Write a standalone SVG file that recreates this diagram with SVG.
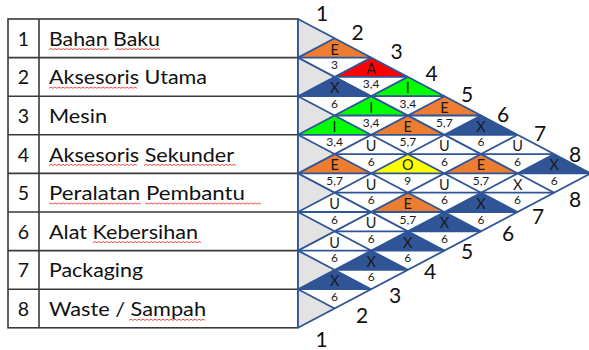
<svg xmlns="http://www.w3.org/2000/svg" width="589" height="350" viewBox="0 0 589 350">
  <style>
    .tbl { fill: none; stroke: #3a3a3a; stroke-width: 1.6; }
    .lbl { font-family: Lato, "Liberation Sans", sans-serif; font-size: 19.5px; fill: #111; }
    .num { font-family: Lato, "Liberation Sans", sans-serif; font-size: 19.5px; fill: #111; text-anchor: middle; }
    .idx { font-family: Lato, "Liberation Sans", sans-serif; font-size: 21px; fill: #111; text-anchor: middle; }
    .sq  { fill: none; stroke: #e8403a; stroke-width: 0.9; }
    .gray { fill: #e3e3e3; }
    .E { fill: #ed7d31; }
    .A { fill: #ff0000; }
    .I { fill: #00ff00; }
    .O { fill: #ffff00; }
    .X { fill: #2f5597; }
    .grid { fill: none; stroke: #2f5597; stroke-width: 1.8; stroke-linejoin: round; }
    .let { font-family: Lato, "Liberation Sans", sans-serif; font-size: 14.5px; fill: #1a1a1a; text-anchor: middle; }
    .why { font-family: Lato, "Liberation Sans", sans-serif; font-size: 12px; fill: #1a1a1a; text-anchor: middle; }
  </style>

  <!-- department table -->
  <g id="table">
    <rect class="tbl" x="8" y="19" width="290" height="308.8"/>
    <path class="tbl" d="M39 19V327.8M8 57.6H298M8 96.2H298M8 134.8H298M8 173.4H298M8 212H298M8 250.6H298M8 289.2H298"/>
  </g>
  <g id="dept-1"><text class="num" x="23.5" y="45.7">1</text><text class="lbl" x="49" y="45.7" textLength="111" lengthAdjust="spacingAndGlyphs">Bahan Baku</text>
    <path class="sq" d="M49 49.7l2 -1.2l2 1.2l2 -1.2l2 1.2l2 -1.2l2 1.2l2 -1.2l2 1.2l2 -1.2l2 1.2l2 -1.2l2 1.2l2 -1.2l2 1.2l2 -1.2l2 1.2l2 -1.2l2 1.2l2 -1.2l2 1.2l2 -1.2l2 1.2l2 -1.2l2 1.2l2 -1.2l2 1.2l2 -1.2l2 1.2l2 -1.2l2 1.2M116 49.7l2 -1.2l2 1.2l2 -1.2l2 1.2l2 -1.2l2 1.2l2 -1.2l2 1.2l2 -1.2l2 1.2l2 -1.2l2 1.2l2 -1.2l2 1.2l2 -1.2l2 1.2l2 -1.2l2 1.2l2 -1.2l2 1.2l2 -1.2l2 1.2"/></g>
  <g id="dept-2"><text class="num" x="23.5" y="84.3">2</text><text class="lbl" x="49" y="84.3" textLength="158" lengthAdjust="spacingAndGlyphs">Aksesoris Utama</text>
    <path class="sq" d="M49 88.3l2 -1.2l2 1.2l2 -1.2l2 1.2l2 -1.2l2 1.2l2 -1.2l2 1.2l2 -1.2l2 1.2l2 -1.2l2 1.2l2 -1.2l2 1.2l2 -1.2l2 1.2l2 -1.2l2 1.2l2 -1.2l2 1.2l2 -1.2l2 1.2l2 -1.2l2 1.2l2 -1.2l2 1.2l2 -1.2l2 1.2l2 -1.2l2 1.2l2 -1.2l2 1.2l2 -1.2l2 1.2l2 -1.2l2 1.2l2 -1.2l2 1.2l2 -1.2l2 1.2l2 -1.2l2 1.2l2 -1.2l2 1.2"/></g>
  <g id="dept-3"><text class="num" x="23.5" y="122.9">3</text><text class="lbl" x="49" y="122.9" textLength="58" lengthAdjust="spacingAndGlyphs">Mesin</text></g>
  <g id="dept-4"><text class="num" x="23.5" y="161.5">4</text><text class="lbl" x="49" y="161.5" textLength="185" lengthAdjust="spacingAndGlyphs">Aksesoris Sekunder</text>
    <path class="sq" d="M49 165.5l2 -1.2l2 1.2l2 -1.2l2 1.2l2 -1.2l2 1.2l2 -1.2l2 1.2l2 -1.2l2 1.2l2 -1.2l2 1.2l2 -1.2l2 1.2l2 -1.2l2 1.2l2 -1.2l2 1.2l2 -1.2l2 1.2l2 -1.2l2 1.2l2 -1.2l2 1.2l2 -1.2l2 1.2l2 -1.2l2 1.2l2 -1.2l2 1.2l2 -1.2l2 1.2l2 -1.2l2 1.2l2 -1.2l2 1.2l2 -1.2l2 1.2l2 -1.2l2 1.2l2 -1.2l2 1.2l2 -1.2l2 1.2M144 165.5l2 -1.2l2 1.2l2 -1.2l2 1.2l2 -1.2l2 1.2l2 -1.2l2 1.2l2 -1.2l2 1.2l2 -1.2l2 1.2l2 -1.2l2 1.2l2 -1.2l2 1.2l2 -1.2l2 1.2l2 -1.2l2 1.2l2 -1.2l2 1.2l2 -1.2l2 1.2l2 -1.2l2 1.2l2 -1.2l2 1.2l2 -1.2l2 1.2l2 -1.2l2 1.2l2 -1.2l2 1.2l2 -1.2l2 1.2l2 -1.2l2 1.2l2 -1.2l2 1.2l2 -1.2l2 1.2l2 -1.2l2 1.2l2 -1.2l2 1.2"/></g>
  <g id="dept-5"><text class="num" x="23.5" y="200.1">5</text><text class="lbl" x="49" y="200.1" textLength="196" lengthAdjust="spacingAndGlyphs">Peralatan Pembantu</text>
    <path class="sq" d="M49 204.1l2 -1.2l2 1.2l2 -1.2l2 1.2l2 -1.2l2 1.2l2 -1.2l2 1.2l2 -1.2l2 1.2l2 -1.2l2 1.2l2 -1.2l2 1.2l2 -1.2l2 1.2l2 -1.2l2 1.2l2 -1.2l2 1.2l2 -1.2l2 1.2l2 -1.2l2 1.2l2 -1.2l2 1.2l2 -1.2l2 1.2l2 -1.2l2 1.2l2 -1.2l2 1.2l2 -1.2l2 1.2l2 -1.2l2 1.2l2 -1.2l2 1.2l2 -1.2l2 1.2l2 -1.2l2 1.2l2 -1.2l2 1.2l2 -1.2l2 1.2M145 204.1l2 -1.2l2 1.2l2 -1.2l2 1.2l2 -1.2l2 1.2l2 -1.2l2 1.2l2 -1.2l2 1.2l2 -1.2l2 1.2l2 -1.2l2 1.2l2 -1.2l2 1.2l2 -1.2l2 1.2l2 -1.2l2 1.2l2 -1.2l2 1.2l2 -1.2l2 1.2l2 -1.2l2 1.2l2 -1.2l2 1.2l2 -1.2l2 1.2l2 -1.2l2 1.2l2 -1.2l2 1.2l2 -1.2l2 1.2l2 -1.2l2 1.2l2 -1.2l2 1.2l2 -1.2l2 1.2l2 -1.2l2 1.2l2 -1.2l2 1.2l2 -1.2l2 1.2l2 -1.2l2 1.2l2 -1.2l2 1.2l2 -1.2l2 1.2l2 -1.2l2 1.2l2 -1.2l2 1.2"/></g>
  <g id="dept-6"><text class="num" x="23.5" y="238.7">6</text><text class="lbl" x="49" y="238.7" textLength="149" lengthAdjust="spacingAndGlyphs">Alat Kebersihan</text>
    <path class="sq" d="M93 242.7l2 -1.2l2 1.2l2 -1.2l2 1.2l2 -1.2l2 1.2l2 -1.2l2 1.2l2 -1.2l2 1.2l2 -1.2l2 1.2l2 -1.2l2 1.2l2 -1.2l2 1.2l2 -1.2l2 1.2l2 -1.2l2 1.2l2 -1.2l2 1.2l2 -1.2l2 1.2l2 -1.2l2 1.2l2 -1.2l2 1.2l2 -1.2l2 1.2l2 -1.2l2 1.2l2 -1.2l2 1.2l2 -1.2l2 1.2l2 -1.2l2 1.2l2 -1.2l2 1.2l2 -1.2l2 1.2l2 -1.2l2 1.2l2 -1.2l2 1.2l2 -1.2l2 1.2l2 -1.2l2 1.2l2 -1.2l2 1.2l2 -1.2l2 1.2"/></g>
  <g id="dept-7"><text class="num" x="23.5" y="277.3">7</text><text class="lbl" x="49" y="277.3" textLength="94" lengthAdjust="spacingAndGlyphs">Packaging</text></g>
  <g id="dept-8"><text class="num" x="23.5" y="315.9">8</text><text class="lbl" x="49" y="315.9" textLength="157" lengthAdjust="spacingAndGlyphs">Waste / Sampah</text>
    <path class="sq" d="M129 320.4l2 -1.2l2 1.2l2 -1.2l2 1.2l2 -1.2l2 1.2l2 -1.2l2 1.2l2 -1.2l2 1.2l2 -1.2l2 1.2l2 -1.2l2 1.2l2 -1.2l2 1.2l2 -1.2l2 1.2l2 -1.2l2 1.2l2 -1.2l2 1.2l2 -1.2l2 1.2l2 -1.2l2 1.2l2 -1.2l2 1.2l2 -1.2l2 1.2l2 -1.2l2 1.2l2 -1.2l2 1.2l2 -1.2l2 1.2l2 -1.2l2 1.2"/></g>

  <!-- shaded end caps of each row -->
  <g id="caps" class="gray">
    <polygon points="298,19 298,57.6 334.6,38.3"/>
    <polygon points="298,57.6 298,96.2 334.6,76.9"/>
    <polygon points="298,96.2 298,134.8 334.6,115.5"/>
    <polygon points="298,134.8 298,173.4 334.6,154.1"/>
    <polygon points="298,173.4 298,212 334.6,192.7"/>
    <polygon points="298,212 298,250.6 334.6,231.3"/>
    <polygon points="298,250.6 298,289.2 334.6,269.9"/>
    <polygon points="298,289.2 298,327.8 334.6,308.5"/>
  </g>

  <!-- relationship cells: closeness code on top, reason code below -->
  <g id="rel-1-2"><polygon class="E" points="334.6,38.3 298,57.6 371.2,57.6"/><text class="let" x="334.6" y="54.6">E</text><text class="why" x="334.6" y="69.1">3</text></g>
  <g id="rel-1-3"><polygon class="A" points="371.2,57.6 334.6,76.9 407.8,76.9"/><text class="let" x="371.2" y="73.9">A</text><text class="why" x="371.2" y="88.4">3,4</text></g>
  <g id="rel-1-4"><polygon class="I" points="407.8,76.9 371.2,96.2 444.4,96.2"/><text class="let" x="407.8" y="93.2">I</text><text class="why" x="407.8" y="107.7">3,4</text></g>
  <g id="rel-1-5"><polygon class="E" points="444.4,96.2 407.8,115.5 481,115.5"/><text class="let" x="444.4" y="112.5">E</text><text class="why" x="444.4" y="127">5,7</text></g>
  <g id="rel-1-6"><polygon class="X" points="481,115.5 444.4,134.8 517.6,134.8"/><text class="let" x="481" y="131.8">X</text><text class="why" x="481" y="146.3">6</text></g>
  <g id="rel-1-7"><text class="let" x="517.6" y="151.1">U</text><text class="why" x="517.6" y="165.6">6</text></g>
  <g id="rel-1-8"><polygon class="X" points="554.2,154.1 517.6,173.4 590.8,173.4"/><text class="let" x="554.2" y="170.4">X</text><text class="why" x="554.2" y="184.9">6</text></g>
  <g id="rel-2-3"><polygon class="X" points="334.6,76.9 298,96.2 371.2,96.2"/><text class="let" x="334.6" y="93.2">X</text><text class="why" x="334.6" y="107.7">6</text></g>
  <g id="rel-2-4"><polygon class="I" points="371.2,96.2 334.6,115.5 407.8,115.5"/><text class="let" x="371.2" y="112.5">I</text><text class="why" x="371.2" y="127">3,4</text></g>
  <g id="rel-2-5"><polygon class="E" points="407.8,115.5 371.2,134.8 444.4,134.8"/><text class="let" x="407.8" y="131.8">E</text><text class="why" x="407.8" y="146.3">5,7</text></g>
  <g id="rel-2-6"><text class="let" x="444.4" y="151.1">U</text><text class="why" x="444.4" y="165.6">6</text></g>
  <g id="rel-2-7"><polygon class="E" points="481,154.1 444.4,173.4 517.6,173.4"/><text class="let" x="481" y="170.4">E</text><text class="why" x="481" y="184.9">5,7</text></g>
  <g id="rel-2-8"><text class="let" x="517.6" y="189.7">X</text><text class="why" x="517.6" y="204.2">6</text></g>
  <g id="rel-3-4"><polygon class="I" points="334.6,115.5 298,134.8 371.2,134.8"/><text class="let" x="334.6" y="131.8">I</text><text class="why" x="334.6" y="146.3">3,4</text></g>
  <g id="rel-3-5"><text class="let" x="371.2" y="151.1">U</text><text class="why" x="371.2" y="165.6">6</text></g>
  <g id="rel-3-6"><polygon class="O" points="407.8,154.1 371.2,173.4 444.4,173.4"/><text class="let" x="407.8" y="170.4">O</text><text class="why" x="407.8" y="184.9">9</text></g>
  <g id="rel-3-7"><text class="let" x="444.4" y="189.7">U</text><text class="why" x="444.4" y="204.2">6</text></g>
  <g id="rel-3-8"><polygon class="X" points="481,192.7 444.4,212 517.6,212"/><text class="let" x="481" y="209">X</text><text class="why" x="481" y="223.5">6</text></g>
  <g id="rel-4-5"><polygon class="E" points="334.6,154.1 298,173.4 371.2,173.4"/><text class="let" x="334.6" y="170.4">E</text><text class="why" x="334.6" y="184.9">5,7</text></g>
  <g id="rel-4-6"><text class="let" x="371.2" y="189.7">U</text><text class="why" x="371.2" y="204.2">6</text></g>
  <g id="rel-4-7"><polygon class="E" points="407.8,192.7 371.2,212 444.4,212"/><text class="let" x="407.8" y="209">E</text><text class="why" x="407.8" y="223.5">5,7</text></g>
  <g id="rel-4-8"><polygon class="X" points="444.4,212 407.8,231.3 481,231.3"/><text class="let" x="444.4" y="228.3">X</text><text class="why" x="444.4" y="242.8">6</text></g>
  <g id="rel-5-6"><text class="let" x="334.6" y="209">U</text><text class="why" x="334.6" y="223.5">6</text></g>
  <g id="rel-5-7"><text class="let" x="371.2" y="228.3">U</text><text class="why" x="371.2" y="242.8">6</text></g>
  <g id="rel-5-8"><polygon class="X" points="407.8,231.3 371.2,250.6 444.4,250.6"/><text class="let" x="407.8" y="247.6">X</text><text class="why" x="407.8" y="262.1">6</text></g>
  <g id="rel-6-7"><text class="let" x="334.6" y="247.6">U</text><text class="why" x="334.6" y="262.1">6</text></g>
  <g id="rel-6-8"><polygon class="X" points="371.2,250.6 334.6,269.9 407.8,269.9"/><text class="let" x="371.2" y="266.9">X</text><text class="why" x="371.2" y="281.4">6</text></g>
  <g id="rel-7-8"><polygon class="X" points="334.6,269.9 298,289.2 371.2,289.2"/><text class="let" x="334.6" y="286.2">X</text><text class="why" x="334.6" y="300.7">6</text></g>

  <!-- diamond lattice lines -->
  <g id="connectors" class="grid">
    <path d="M298 19V327.8"/>
    <path d="M298 19L590.8 173.4L298 327.8"/>
    <path d="M298 57.6L554.2 192.7M298 96.2L517.6 212M298 134.8L481 231.3M298 173.4L444.4 250.6M298 212L407.8 269.9M298 250.6L371.2 289.2M298 289.2L334.6 308.5"/>
    <path d="M298 57.6L334.6 38.3M298 96.2L371.2 57.6M298 134.8L407.8 76.9M298 173.4L444.4 96.2M298 212L481 115.5M298 250.6L517.6 134.8M298 289.2L554.2 154.1"/>
    <path d="M298 57.6H371.2M298 96.2H444.4M298 134.8H517.6M298 173.4H590.8M298 212H517.6M298 250.6H444.4M298 289.2H371.2"/>
    <path d="M334.6 76.9H407.8M334.6 115.5H481M334.6 154.1H554.2M334.6 192.7H554.2M334.6 231.3H481M334.6 269.9H407.8"/>
  </g>

  <!-- department indices along both slanted edges -->
  <g id="index-top">
    <text class="idx" x="322" y="21">1</text>
    <text class="idx" x="357.7" y="40">2</text>
    <text class="idx" x="396.7" y="58.5">3</text>
    <text class="idx" x="431.7" y="81">4</text>
    <text class="idx" x="467" y="101.5">5</text>
    <text class="idx" x="503" y="121.5">6</text>
    <text class="idx" x="540" y="140.5">7</text>
    <text class="idx" x="575" y="161.5">8</text>
  </g>
  <g id="index-bottom">
    <text class="idx" x="575" y="207">8</text>
    <text class="idx" x="538" y="223.5">7</text>
    <text class="idx" x="508" y="240.5">6</text>
    <text class="idx" x="467" y="259">5</text>
    <text class="idx" x="430" y="279">4</text>
    <text class="idx" x="395" y="303">3</text>
    <text class="idx" x="362" y="323">2</text>
    <text class="idx" x="321.7" y="346.5">1</text>
  </g>
</svg>
